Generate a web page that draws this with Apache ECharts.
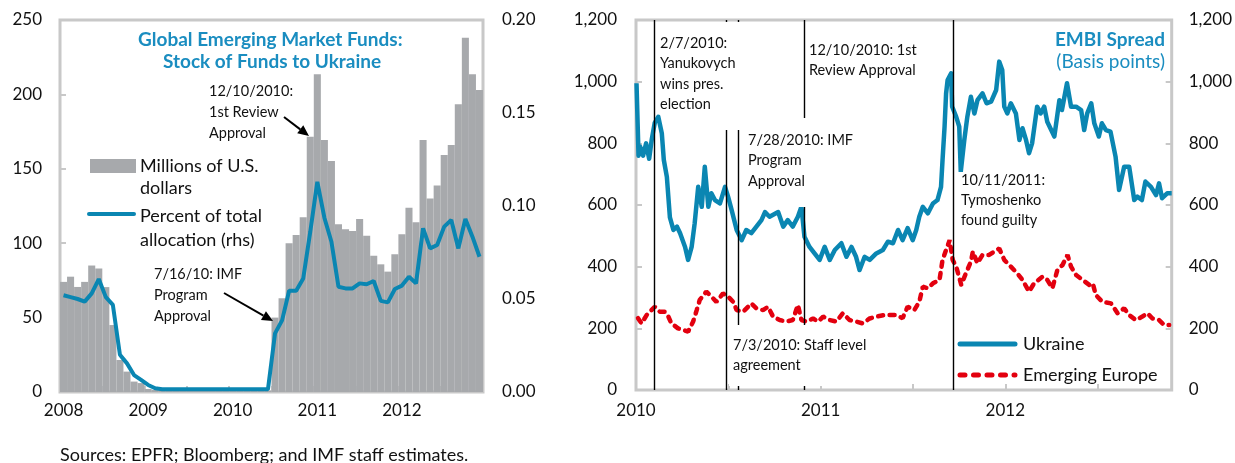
<!DOCTYPE html>
<html>
<head>
<meta charset="utf-8">
<title>Ukraine: fund flows and EMBI spread</title>
<style>
html, body { margin: 0; padding: 0; background: #fff; }
#chart { width: 1235px; height: 463px; }
</style>
<script src="https://cdn.jsdelivr.net/npm/echarts@6/dist/echarts.min.js"></script>
</head>
<body>
<div id="chart"></div>
<script>
// ---- left panel: monthly, Jan 2008 .. Dec 2012
var years = ['2008', '2009', '2010', '2011', '2012'];
var fundsUsd = [
	74, 77.5, 70.6, 74, 85, 83, 70.5, 45, 21.5, 13.7, 7, 6,
	2, 1.5, 1, 1, 1, 1, 1, 1, 1, 1, 1, 1,
	1, 1, 1, 1, 1, 1, 50, 63, 100, 105.5, 117.4, 171.6,
	213.5, 169.4, 155.2, 112.7, 109.3, 108.2, 116.3, 105, 91.6, 85.8, 80.9, 92.5,
	106, 123.9, 114, 169.4, 130, 138.7, 159.3, 166, 193.3, 238, 213.5, 203
];
var fundsPct = [
	0.052, 0.051, 0.050, 0.0486, 0.053, 0.0607, 0.051, 0.0468, 0.020, 0.0154, 0.0091, 0.0065,
	0.0038, 0.002, 0.0015, 0.0015, 0.0015, 0.0015, 0.0015, 0.0015, 0.0015, 0.0015, 0.0015, 0.0015,
	0.0015, 0.0015, 0.0015, 0.0015, 0.0015, 0.0015, 0.0315, 0.0385, 0.0544, 0.0544, 0.061, 0.0862,
	0.113, 0.0937, 0.0808, 0.0566, 0.0557, 0.0557, 0.0584, 0.0579, 0.0597, 0.049, 0.0482, 0.0554,
	0.0572, 0.062, 0.0584, 0.088, 0.0772, 0.079, 0.0889, 0.0925, 0.0772, 0.093, 0.0835, 0.0727
];

// ---- right panel: days since 1 Jan 2010
var ukrDays = [1, 5, 8, 14, 20, 26, 31, 37, 44, 51, 55, 61, 67, 74, 81, 87, 97, 103, 110, 116,
	123, 130, 136, 143, 149, 156, 166, 176, 182, 189, 199, 209, 218, 228, 238, 248, 255, 264, 281, 291,
	300, 310, 320, 327, 333, 343, 353, 363, 373, 383, 393, 406, 416, 426, 435, 442, 452, 462, 475, 488,
	498, 508, 518, 527, 537, 547, 554, 560, 567, 577, 587, 596, 603, 606, 610, 613, 616, 623, 625, 633,
	639, 642, 649, 655, 662, 669, 675, 685, 693, 702, 712, 718, 724, 728, 734, 741, 751, 758, 764, 771,
	777, 783, 793, 800, 807, 813, 827, 837, 842, 852, 860, 870, 880, 886, 892, 900, 906, 915, 921, 929,
	938, 948, 955, 965, 975, 985, 991, 1000, 1007, 1018, 1028, 1034, 1040, 1050, 1059];
var ukrSpread = [995, 760, 790, 760, 800, 750, 811, 866, 886, 833, 746, 691, 560, 519, 530, 509, 464, 422, 464, 541,
	659, 594, 724, 594, 638, 616, 605, 659, 627, 584, 519, 486, 519, 509, 530, 551, 577, 562, 577, 530,
	551, 530, 562, 594, 497, 464, 443, 422, 464, 422, 454, 476, 432, 464, 432, 389, 432, 422, 443, 454,
	481, 476, 519, 486, 525, 486, 519, 562, 594, 573, 605, 616, 659, 746, 854, 962, 1005, 1027, 919, 886,
	854, 708, 811, 886, 951, 897, 940, 962, 930, 935, 973, 1065, 1038, 919, 897, 930, 897, 811, 849, 811,
	768, 800, 919, 897, 919, 870, 822, 940, 908, 995, 919, 919, 908, 843, 897, 930, 865, 822, 865, 843,
	838, 757, 649, 724, 724, 616, 627, 616, 676, 659, 632, 670, 622, 638, 638];

var eurDays = [4, 11, 21, 37, 47, 57, 64, 70, 83, 93, 103, 113, 120, 126, 139, 149, 159, 172, 182, 192,
	199, 212, 228, 238, 251, 261, 271, 284, 297, 310, 320, 327, 337, 350, 360, 370, 383, 396, 409, 422,
	435, 448, 462, 475, 491, 504, 514, 527, 537, 550, 560, 567, 577, 587, 600, 606, 613, 620, 626, 633,
	643, 652, 662, 666, 675, 685, 698, 708, 718, 728, 741, 754, 764, 777, 787, 804, 813, 823, 833, 843,
	853, 860, 870, 883, 896, 903, 909, 922, 939, 952, 965, 975, 988, 1001, 1011, 1021, 1034, 1044, 1054];
var eurSpread = [233, 216, 243, 270, 254, 254, 238, 216, 200, 195, 189, 222, 259, 292, 319, 303, 286, 313, 303, 286,
	259, 254, 281, 265, 259, 270, 238, 227, 222, 227, 276, 227, 222, 232, 222, 238, 227, 222, 249, 227,
	222, 216, 232, 238, 243, 243, 243, 233, 270, 259, 286, 335, 330, 346, 357, 422, 454, 486, 422, 400,
	341, 378, 416, 449, 411, 438, 438, 449, 459, 422, 400, 378, 357, 319, 346, 368, 357, 330, 389, 405,
	438, 400, 373, 357, 341, 346, 308, 286, 281, 249, 265, 243, 227, 238, 249, 232, 227, 211, 211];

// event lines (days since 1 Jan 2010, as placed on the chart)
var eventDays = [37, 179, 203, 332, 627];

var months = [];
years.forEach(function (y) {
	for (var m = 1; m <= 12; m++) {
		months.push(y + '-' + (m < 10 ? '0' + m : m));
	}
});

function zip(xs, ys) {
	return xs.map(function (x, i) { return [x, ys[i]]; });
}

var FONT = 'Lato';
var BLUE = '#0a86b2';
var TEAL = '#1a8dc0';
var RED = '#e3000f';
var GRAY = '#a7a9ac';
var FRAME = '#c8c8c8';

function thousands(v) {
	return String(v).replace(/\B(?=(\d{3})+(?!\d))/g, ',');
}

var labelStyle = { fontFamily: FONT, fontSize: 17, color: '#111' };
var tickStyle = { show: true, inside: true, length: 6, lineStyle: { color: FRAME, width: 2 } };

var chart = echarts.init(document.getElementById('chart'));

var option = {
	animation: false,
	textStyle: { fontFamily: FONT },
	grid: [
		{ left: 60, top: 20, width: 423, height: 372, show: true, borderColor: FRAME, borderWidth: 3 },
		{ left: 636, top: 20, width: 537, height: 370, show: true, borderColor: FRAME, borderWidth: 3 }
	],
	xAxis: [
		{
			type: 'category', gridIndex: 0, data: months, boundaryGap: true,
			axisLine: { show: false },
			axisTick: { show: true, inside: true, length: 6, interval: 5, lineStyle: { color: FRAME, width: 2 } },
			axisLabel: Object.assign({ interval: 11, margin: 10, formatter: function (v) { return v.slice(0, 4); } }, labelStyle),
			splitLine: { show: false }
		},
		{
			type: 'value', gridIndex: 1, min: 0, max: 1059, interval: 182.5,
			axisLine: { show: false },
			axisTick: tickStyle,
			axisLabel: Object.assign({
				margin: 12, showMaxLabel: false,
				formatter: function (v) {
					var y = v / 365;
					return Math.abs(y - Math.round(y)) < 1e-6 ? String(2010 + Math.round(y)) : '';
				}
			}, labelStyle),
			splitLine: { show: false }
		}
	],
	yAxis: [
		{
			type: 'value', gridIndex: 0, position: 'left', min: 0, max: 250, interval: 50,
			axisLine: { show: false }, axisTick: tickStyle,
			axisLabel: Object.assign({ margin: 18 }, labelStyle),
			splitLine: { show: false }
		},
		{
			type: 'value', gridIndex: 0, position: 'right', min: 0, max: 0.2, interval: 0.05,
			axisLine: { show: false }, axisTick: tickStyle,
			axisLabel: Object.assign({ margin: 19, formatter: function (v) { return v.toFixed(2); } }, labelStyle),
			splitLine: { show: false }
		},
		{
			type: 'value', gridIndex: 1, position: 'left', min: 0, max: 1200, interval: 200,
			axisLine: { show: false }, axisTick: tickStyle,
			axisLabel: Object.assign({ margin: 19, formatter: thousands }, labelStyle),
			splitLine: { show: false }
		},
		{
			type: 'value', gridIndex: 1, position: 'right', min: 0, max: 1200, interval: 200,
			axisLine: { show: false }, axisTick: tickStyle,
			axisLabel: Object.assign({ margin: 17, formatter: thousands }, labelStyle),
			splitLine: { show: false }
		}
	],
	series: [
		{
			name: 'Millions of U.S. dollars', type: 'bar', xAxisIndex: 0, yAxisIndex: 0,
			data: fundsUsd, barCategoryGap: '0%', itemStyle: { color: GRAY }, z: 1
		},
		{
			name: 'Percent of total allocation (rhs)', type: 'line', xAxisIndex: 0, yAxisIndex: 1,
			data: fundsPct, symbol: 'none', lineStyle: { color: BLUE, width: 4 }, z: 3
		},
		{
			name: 'Ukraine', type: 'line', xAxisIndex: 1, yAxisIndex: 2,
			data: zip(ukrDays, ukrSpread), symbol: 'none', color: BLUE,
			lineStyle: { color: BLUE, width: 4.5, join: 'round' }, z: 3,
			markLine: {
				silent: true, symbol: ['none', 'none'], label: { show: false },
				lineStyle: { color: '#000', width: 1.4, type: 'solid' },
				data: eventDays.map(function (d) { return { xAxis: d }; })
			}
		},
		{
			name: 'Emerging Europe', type: 'line', xAxisIndex: 1, yAxisIndex: 2,
			data: zip(eurDays, eurSpread), symbol: 'none', color: RED,
			lineStyle: { color: RED, width: 4.5, type: [5, 6.5], cap: 'round' }, z: 2
		}
	]
};
chart.setOption(option);

// ---- annotations, titles, legends, source
var annoFont = '14.5px ' + FONT;
function txt(x, y, text, font, color, lh, align) {
	return { type: 'text', z: 100, x: x, y: y,
		style: { text: text, font: font, fill: color || '#111', lineHeight: lh || 21, align: align || 'left', verticalAlign: 'top' } };
}
function note(x, y, text, lh) {
	return txt(x, y, text, annoFont, '#111', lh || 20.5);
}
function box(x, y, w, h) {
	return { type: 'rect', z: 99, shape: { x: x, y: y, width: w, height: h }, style: { fill: '#fff' } };
}
function arrow(x1, y1, x2, y2) {
	var a = Math.atan2(y2 - y1, x2 - x1), L = 11, W = 5;
	var bx = x2 - L * Math.cos(a), by = y2 - L * Math.sin(a);
	return [
		{ type: 'line', z: 100, shape: { x1: x1, y1: y1, x2: bx, y2: by }, style: { stroke: '#000', lineWidth: 2 } },
		{ type: 'polygon', z: 100, shape: { points: [[x2, y2],
			[bx + W * Math.sin(a), by - W * Math.cos(a)], [bx - W * Math.sin(a), by + W * Math.cos(a)]] },
			style: { fill: '#000' } }
	];
}

var graphics = [
	// left title
	txt(138, 29, 'Global Emerging Market Funds:', 'bold 19px ' + FONT, TEAL, 22),
	txt(163, 51, 'Stock of Funds to Ukraine', 'bold 19px ' + FONT, TEAL, 22),
	// left legend
	{ type: 'rect', z: 100, shape: { x: 90, y: 159, width: 46, height: 14 }, style: { fill: GRAY } },
	txt(140, 155, 'Millions of U.S.\ndollars', '18px ' + FONT, '#111', 22),
	{ type: 'line', z: 100, shape: { x1: 89, y1: 214, x2: 134, y2: 214 }, style: { stroke: BLUE, lineWidth: 4, lineCap: 'round' } },
	txt(140, 204, 'Percent of total\nallocation (rhs)', '18px ' + FONT, '#111', 24),
	// left notes
	note(209, 81, '12/10/2010:\n1st Review\nApproval', 21),
	note(154, 264, '7/16/10: IMF\nProgram\nApproval', 21),
	// right title
	txt(1165, 29, 'EMBI Spread', 'bold 19px ' + FONT, TEAL, 22, 'right'),
	txt(1165, 51, '(Basis points)', '19px ' + FONT, TEAL, 22, 'right'),
	// right notes with white boxes over the event lines
	box(662, 22, 83, 96),
	box(700, 22, 45, 108),
	note(660, 33, '2/7/2010:\nYanukovych\nwins pres.\nelection'),
	note(809, 40, '12/10/2010: 1st\nReview Approval'),
	box(742, 118, 72, 89),
	note(748, 130, '7/28/2010: IMF\nProgram\nApproval'),
	box(729, 325, 108, 61),
	note(733, 335, '7/3/2010: Staff level\nagreement'),
	box(957, 172, 95, 60),
	note(961, 170, '10/11/2011:\nTymoshenko\nfound guilty', 20),
	// right legend
	{ type: 'line', z: 100, shape: { x1: 960, y1: 344, x2: 1015, y2: 344 }, style: { stroke: BLUE, lineWidth: 5, lineCap: 'round' } },
	txt(1023, 333, 'Ukraine', '18px ' + FONT, '#111', 22),
	{ type: 'line', z: 100, shape: { x1: 960, y1: 375, x2: 1015, y2: 375 }, style: { stroke: RED, lineWidth: 5, lineCap: 'round', lineDash: [5, 8.5] } },
	txt(1023, 364, 'Emerging Europe', '18px ' + FONT, '#111', 22),
	// source
	txt(60, 444, 'Sources: EPFR; Bloomberg; and IMF staff estimates.', '18px ' + FONT, '#111', 22)
].concat(arrow(284, 117, 309, 136), arrow(224, 293, 273, 321));

chart.setOption({ graphic: graphics });
</script>
</body>
</html>
